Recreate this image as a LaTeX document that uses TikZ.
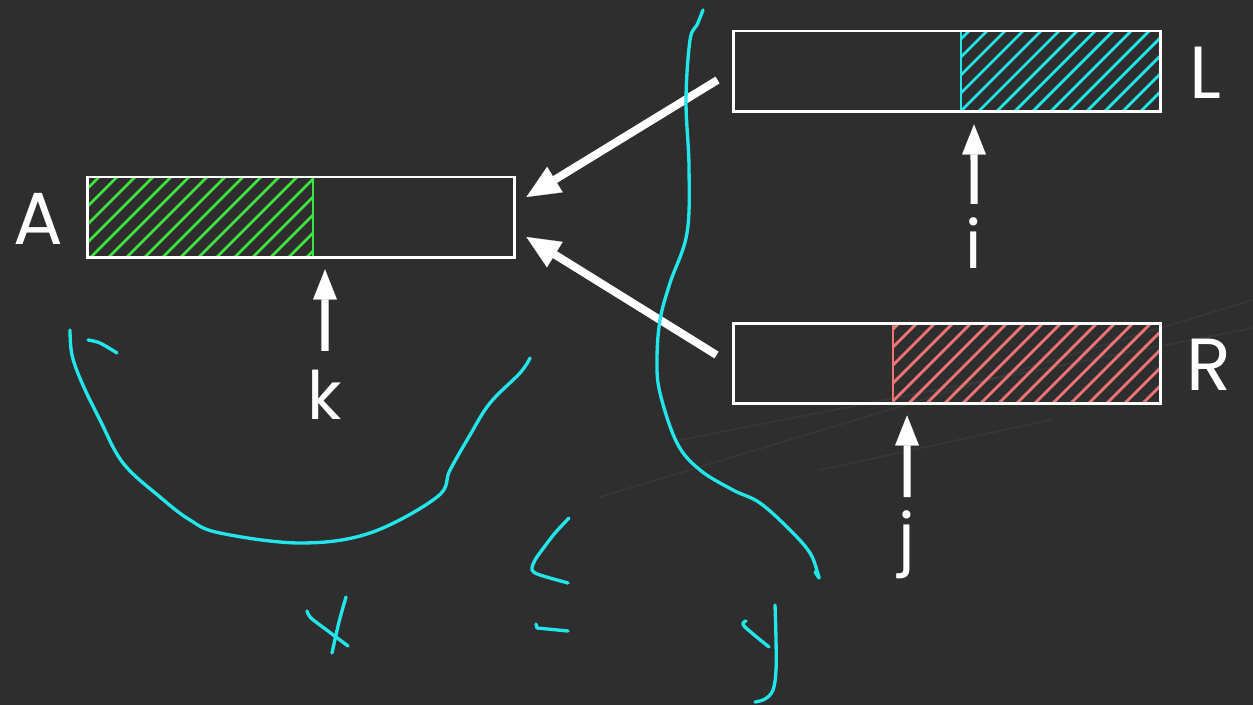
\documentclass[tikz,border=0pt]{standalone}
\usepackage{fontspec}
\setmainfont{Poppins}
\usetikzlibrary{arrows.meta}
\definecolor{board}{HTML}{2E2E2E}
\definecolor{chalkgreen}{HTML}{3DE53D}
\definecolor{chalkcyan}{HTML}{22E6EA}
\definecolor{chalkred}{HTML}{F07474}
\begin{document}
\begin{tikzpicture}[x=0.02cm,y=-0.02cm,
  bar/.style={draw=white,line width=1.7pt,minimum width=8.56cm,minimum height=1.62cm,inner sep=0pt},
  hatchline/.style={line width=1.6pt},
  bigarrow/.style={draw=white,line width=4.5pt,-{Triangle[length=19pt,width=17pt,line width=0.1pt,color=white]}},
  uparrow/.style={draw=white,line width=4pt,-{Triangle[length=17pt,width=13.5pt,line width=0.1pt,color=white]}},
  caplbl/.style={text=white,font=\fontsize{42}{42}\selectfont,anchor=base,inner sep=0pt},
  lowlbl/.style={text=white,font=\fontsize{38}{38}\selectfont,anchor=base,inner sep=0pt},
  chalk/.style={draw=chalkcyan,line width=1.9pt,line cap=round,line join=round},
  scratch/.style={draw=white,opacity=0.045,line width=1pt,line cap=round},
]
% board
\fill[board] (0,0) rectangle (1253,705);
\useasboundingbox (0,0) rectangle (1253,705);
\draw[scratch] (600,497) -- (1253,300);
\draw[scratch] (680,440) -- (1253,328);
\draw[scratch] (820,470) -- (1050,420);

% hatched parts
\begin{scope}
  \clip (87,177) rectangle (313,258);
  \foreach \s in {-90,-72,...,320} \draw[hatchline,chalkgreen] (\s,258) -- ++(100,-100);
\end{scope}
\draw[hatchline,chalkgreen] (313,177) -- (313,258);
\begin{scope}
  \clip (961,31) rectangle (1161,112);
  \foreach \s in {870,888,...,1170} \draw[hatchline,chalkcyan] (\s,112) -- ++(100,-100);
\end{scope}
\draw[hatchline,chalkcyan] (961,31) -- (961,112);
\begin{scope}
  \clip (893,323) rectangle (1161,404);
  \foreach \s in {800,818,...,1170} \draw[hatchline,chalkred] (\s,404) -- ++(100,-100);
\end{scope}
\draw[hatchline,chalkred] (893,323) -- (893,404);

% arrays
\node[bar] (A) at (301,217.5) {};
\node[bar] (L) at (947,71.5) {};
\node[bar] (R) at (947,363.5) {};

\node[caplbl] (Alab) at (38,245) {A};
\node[caplbl] (Llab) at (1205,99) {L};
\node[caplbl] (Rlab) at (1209,391) {R};

% merge arrows
\draw[bigarrow] ([xshift=-0.28cm,yshift=-0.17cm]L.west) -- ([xshift=0.2cm,yshift=0.41cm]A.east);
\draw[bigarrow] ([xshift=-0.3cm,yshift=0.17cm]R.west) -- ([xshift=0.2cm,yshift=-0.39cm]A.east);

% index pointers
\node[lowlbl] (k) at (325,419) {k};
\node[lowlbl] (i) at (974,269) {i};
\node[lowlbl] (j) at (907,561) {j};
\coordinate (kTail) at (325,351);
\coordinate (iTail) at (974,204);
\coordinate (jTail) at (907,497);
\draw[uparrow] (kTail) -- ([xshift=0.48cm,yshift=-0.2cm]A.south);
\draw[uparrow] (iTail) -- ([xshift=0.54cm,yshift=-0.22cm]L.south);
\draw[uparrow] (jTail) -- ([xshift=-0.8cm,yshift=-0.2cm]R.south);

% handwritten notes
\draw[chalk] plot[smooth,tension=0.6] coordinates {(703,10) (697,25) (690,40) (686,100) (689,167) (687,233) (670,283) (660,320) (657,360) (660,393) (677,443) (700,470) (733,490) (760,503) (790,530) (810,553) (818,574) (819,578)} -- (815,572);
\draw[chalk] plot[smooth,tension=0.6] coordinates {(70,330) (72,355) (82,383) (100,420) (123,463) (160,497) (190,520) (220,533) (300,543) (370,533) (437,497) (450,470) (470,435) (490,403) (520,373) (530,358)};
\draw[chalk] plot[smooth] coordinates {(88,340) (100,343) (117,353)};
\draw[chalk] plot[smooth,tension=0.5] coordinates {(569,518) (555,533) (545,546) (535,560) (532,570) (540,575) (568,583)};
\draw[chalk] (536,624) -- (537,628) -- (568,631);
\draw[chalk] plot[smooth,tension=0.5] coordinates {(307,611) (311,618) (328,631) (348,646)};
\draw[chalk] plot[smooth,tension=0.5] coordinates {(346,597) (339,622) (332,653)};
\draw[chalk] plot[smooth,tension=0.5] coordinates {(746,621) (744,626) (769,647)};
\draw[chalk] plot[smooth,tension=0.6] coordinates {(775,605) (776,640) (776,670) (773,690) (765,699) (755,702)};
\end{tikzpicture}
\end{document}
